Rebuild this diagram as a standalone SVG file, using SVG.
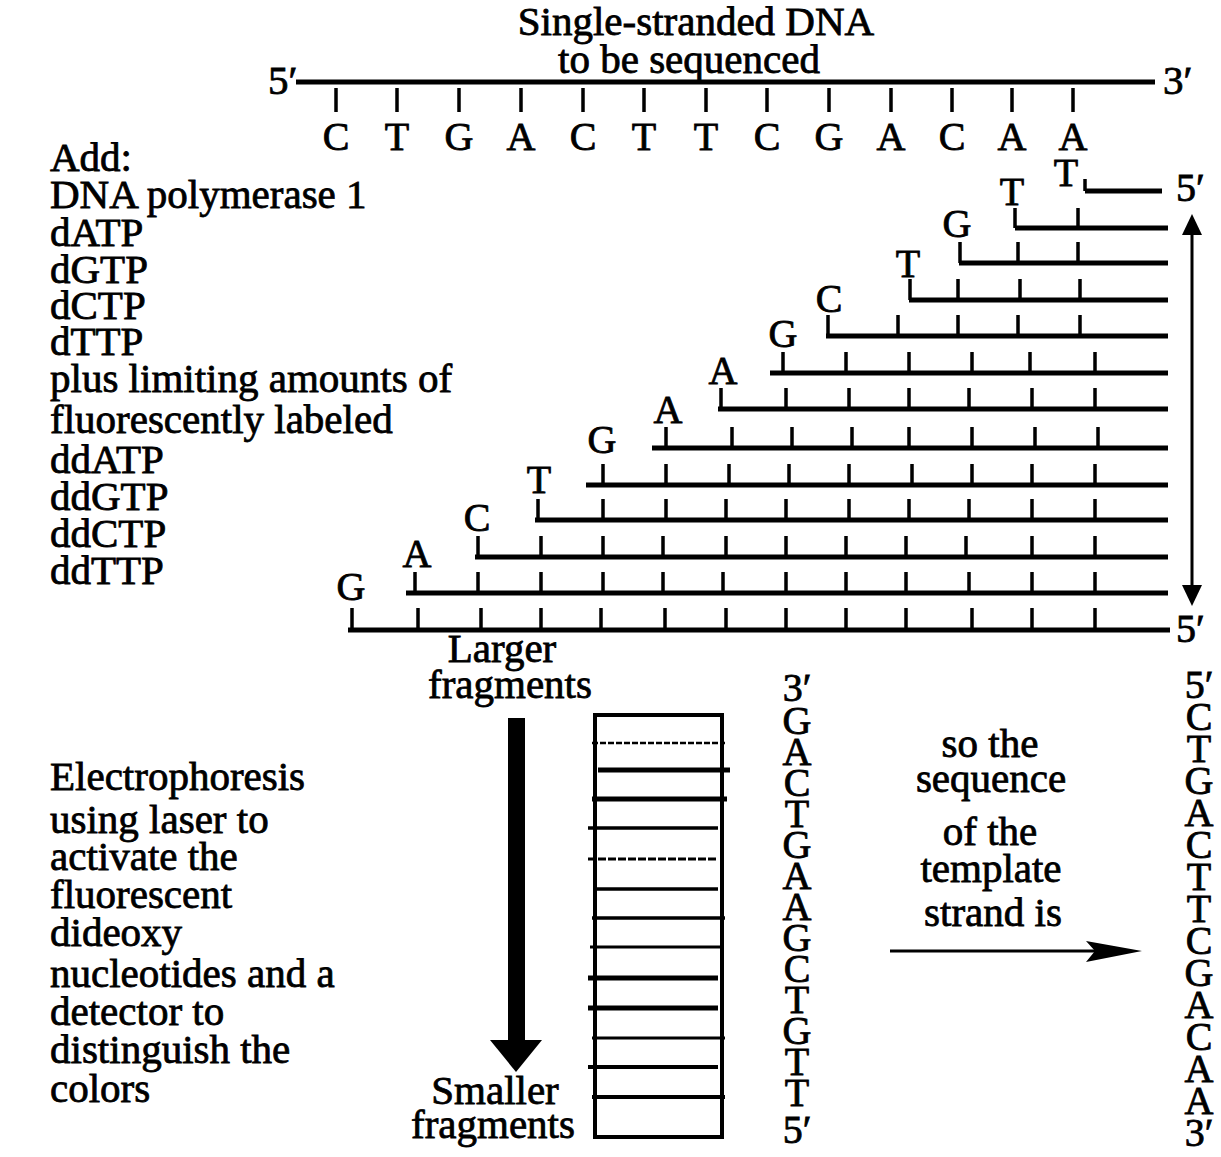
<svg xmlns="http://www.w3.org/2000/svg" width="1221" height="1157" viewBox="0 0 1221 1157">
<style>
text{font-family:"Liberation Serif","Times New Roman",serif;font-size:41px;fill:#000;stroke:#000;stroke-width:0.8}
.c{text-anchor:middle}
.b{font-size:40px}
.strand{stroke:#000;stroke-width:5;fill:none}
.tick{stroke:#000;stroke-width:3.5;fill:none}
.band{stroke:#000;fill:none}
</style>
<rect width="1221" height="1157" fill="#fff"/>

<g id="title">
<text class="c"><tspan x="696" y="35">Single-stranded DNA</tspan><tspan x="689" y="73">to be sequenced</tspan></text>
</g>

<g id="template">
<text x="268" y="94">5′</text>
<text x="1163" y="94">3′</text>
<path class="strand" d="M296 82 H1155"/>
<path class="tick" d="M336 88V112M397 88V112M459 88V112M521 88V112M583 88V112M644 88V112M706 88V112M767 88V112M829 88V112M891 88V112M952 88V112M1012 88V112M1073 88V112"/>
<text class="c b"><tspan x="336" y="150">C</tspan><tspan x="397" y="150">T</tspan><tspan x="459" y="150">G</tspan><tspan x="521" y="150">A</tspan><tspan x="583" y="150">C</tspan><tspan x="644" y="150">T</tspan><tspan x="706" y="150">T</tspan><tspan x="767" y="150">C</tspan><tspan x="829" y="150">G</tspan><tspan x="891" y="150">A</tspan><tspan x="952" y="150">C</tspan><tspan x="1012" y="150">A</tspan><tspan x="1073" y="150">A</tspan></text>
</g>

<g id="reagents">
<text><tspan x="50" y="171">Add:</tspan><tspan x="50" y="208">DNA polymerase 1</tspan><tspan x="50" y="246">dATP</tspan><tspan x="50" y="283">dGTP</tspan><tspan x="50" y="319">dCTP</tspan><tspan x="50" y="355">dTTP</tspan><tspan x="50" y="392">plus limiting amounts of</tspan><tspan x="50" y="433">fluorescently labeled</tspan><tspan x="50" y="473">ddATP</tspan><tspan x="50" y="510">ddGTP</tspan><tspan x="50" y="547">ddCTP</tspan><tspan x="50" y="584">ddTTP</tspan></text>
</g>

<g id="fragments">
<g id="frag1">
<text class="c b" x="1066" y="186">T</text>
<path class="strand" d="M1085 191H1162"/>
<path class="tick" d="M1085 179V191"/>
<text class="b" x="1176" y="201">5′</text>
</g>
<g id="frag2">
<text class="c b" x="1012" y="205">T</text>
<path class="strand" d="M1015 228H1168"/>
<path class="tick" d="M1015 208V228M1078 208V228"/>
</g>
<g id="frag3">
<text class="c b" x="957" y="237">G</text>
<path class="strand" d="M959 263H1168"/>
<path class="tick" d="M960 242V263M1018 242V263M1078 242V263"/>
</g>
<g id="frag4">
<text class="c b" x="908" y="277">T</text>
<path class="strand" d="M909 300H1168"/>
<path class="tick" d="M910 279V300M958 279V300M1020 279V300M1080 279V300"/>
</g>
<g id="frag5">
<text class="c b" x="829" y="312">C</text>
<path class="strand" d="M826 336H1168"/>
<path class="tick" d="M828 315V336M898 315V336M958 315V336M1018 315V336M1080 315V336"/>
</g>
<g id="frag6">
<text class="c b" x="783" y="347">G</text>
<path class="strand" d="M770 373H1168"/>
<path class="tick" d="M783 352V373M846 352V373M909 352V373M972 352V373M1030 352V373M1095 352V373"/>
</g>
<g id="frag7">
<text class="c b" x="723" y="384">A</text>
<path class="strand" d="M718 409H1168"/>
<path class="tick" d="M721 388V409M786 388V409M849 388V409M909 388V409M969 388V409M1032 388V409M1095 388V409"/>
</g>
<g id="frag8">
<text class="c b" x="668" y="423">A</text>
<path class="strand" d="M652 448H1168"/>
<path class="tick" d="M666 427V448M732 427V448M792 427V448M852 427V448M909 427V448M972 427V448M1035 427V448M1098 427V448"/>
</g>
<g id="frag9">
<text class="c b" x="602" y="453">G</text>
<path class="strand" d="M586 485H1168"/>
<path class="tick" d="M603 464V485M666 464V485M729 464V485M789 464V485M849 464V485M912 464V485M972 464V485M1032 464V485M1095 464V485"/>
</g>
<g id="frag10">
<text class="c b" x="539" y="493">T</text>
<path class="strand" d="M535 520H1168"/>
<path class="tick" d="M538 499V520M603 499V520M666 499V520M726 499V520M786 499V520M849 499V520M909 499V520M969 499V520M1032 499V520M1095 499V520"/>
</g>
<g id="frag11">
<text class="c b" x="477" y="531">C</text>
<path class="strand" d="M475 557H1168"/>
<path class="tick" d="M478 536V557M541 536V557M603 536V557M663 536V557M726 536V557M786 536V557M846 536V557M906 536V557M966 536V557M1032 536V557M1095 536V557"/>
</g>
<g id="frag12">
<text class="c b" x="417" y="567">A</text>
<path class="strand" d="M406 593H1168"/>
<path class="tick" d="M415 572V593M478 572V593M541 572V593M603 572V593M663 572V593M723 572V593M786 572V593M846 572V593M906 572V593M969 572V593M1032 572V593M1095 572V593"/>
</g>
<g id="frag13">
<text class="c b" x="351" y="600">G</text>
<path class="strand" d="M348 630H1170"/>
<path class="tick" d="M352 608V630M418 608V630M481 608V630M541 608V630M601 608V630M665 608V630M726 608V630M786 608V630M846 608V630M906 608V630M972 608V630M1032 608V630M1095 608V630"/>
<text class="b" x="1176" y="642">5′</text>
</g>
</g>

<g id="connectors">
<path d="M1192 230V590" stroke="#000" stroke-width="3"/>
<polygon points="1192,214 1202,235 1182,235"/>
<polygon points="1192,606 1202,585 1182,585"/>
<rect x="508" y="718" width="17" height="324"/>
<polygon points="490,1040 542,1040 516,1072"/>
<path d="M890 951H1100" stroke="#000" stroke-width="3"/>
<polygon points="1086,941 1142,951 1086,962 1095,951"/>
</g>

<g id="gel-labels">
<text class="c"><tspan x="502" y="662">Larger</tspan><tspan x="510" y="698">fragments</tspan></text>
<text class="c"><tspan x="495" y="1104">Smaller</tspan><tspan x="493" y="1138">fragments</tspan></text>
</g>

<g id="gel">
<rect x="595" y="715" width="127" height="422" fill="none" stroke="#000" stroke-width="4"/>
<path class="band" stroke-width="2.5" stroke-dasharray="6 2" d="M592 743H725"/>
<path class="band" stroke-width="5" d="M598 770H730"/>
<path class="band" stroke-width="5" d="M592 799H727"/>
<path class="band" stroke-width="3.5" d="M588 828H718"/>
<path class="band" stroke-width="3" stroke-dasharray="8 2" d="M588 859H717"/>
<path class="band" stroke-width="3.5" d="M593 889H718"/>
<path class="band" stroke-width="3.5" d="M592 918H725"/>
<path class="band" stroke-width="3" d="M590 947H720"/>
<path class="band" stroke-width="5" d="M588 978H718"/>
<path class="band" stroke-width="5" d="M588 1008H718"/>
<path class="band" stroke-width="3" d="M592 1038H725"/>
<path class="band" stroke-width="4" d="M588 1067H718"/>
<path class="band" stroke-width="4" d="M592 1097H725"/>
</g>

<g id="gel-sequence">
<text class="c b"><tspan x="797" y="701">3′</tspan><tspan x="797" y="734">G</tspan><tspan x="797" y="765">A</tspan><tspan x="797" y="796">C</tspan><tspan x="797" y="827">T</tspan><tspan x="797" y="858">G</tspan><tspan x="797" y="889">A</tspan><tspan x="797" y="920">A</tspan><tspan x="797" y="951">G</tspan><tspan x="797" y="982">C</tspan><tspan x="797" y="1013">T</tspan><tspan x="797" y="1044">G</tspan><tspan x="797" y="1075">T</tspan><tspan x="797" y="1106">T</tspan><tspan x="797" y="1143">5′</tspan></text>
</g>

<g id="electrophoresis">
<text><tspan x="50" y="790">Electrophoresis</tspan><tspan x="50" y="833">using laser to</tspan><tspan x="50" y="870">activate the</tspan><tspan x="50" y="908">fluorescent</tspan><tspan x="50" y="946">dideoxy</tspan><tspan x="50" y="987">nucleotides and a</tspan><tspan x="50" y="1025">detector to</tspan><tspan x="50" y="1063">distinguish the</tspan><tspan x="50" y="1102">colors</tspan></text>
</g>

<g id="so-the">
<text class="c"><tspan x="990" y="757">so the</tspan><tspan x="991" y="792">sequence</tspan><tspan x="990" y="845">of the</tspan><tspan x="991" y="882">template</tspan><tspan x="993" y="926">strand is</tspan></text>
</g>

<g id="template-sequence">
<text class="c b"><tspan x="1199" y="698">5′</tspan><tspan x="1199" y="730">C</tspan><tspan x="1199" y="762">T</tspan><tspan x="1199" y="794">G</tspan><tspan x="1199" y="826">A</tspan><tspan x="1199" y="858">C</tspan><tspan x="1199" y="890">T</tspan><tspan x="1199" y="922">T</tspan><tspan x="1199" y="954">C</tspan><tspan x="1199" y="986">G</tspan><tspan x="1199" y="1018">A</tspan><tspan x="1199" y="1050">C</tspan><tspan x="1199" y="1082">A</tspan><tspan x="1199" y="1114">A</tspan><tspan x="1199" y="1146">3′</tspan></text>
</g>
</svg>
